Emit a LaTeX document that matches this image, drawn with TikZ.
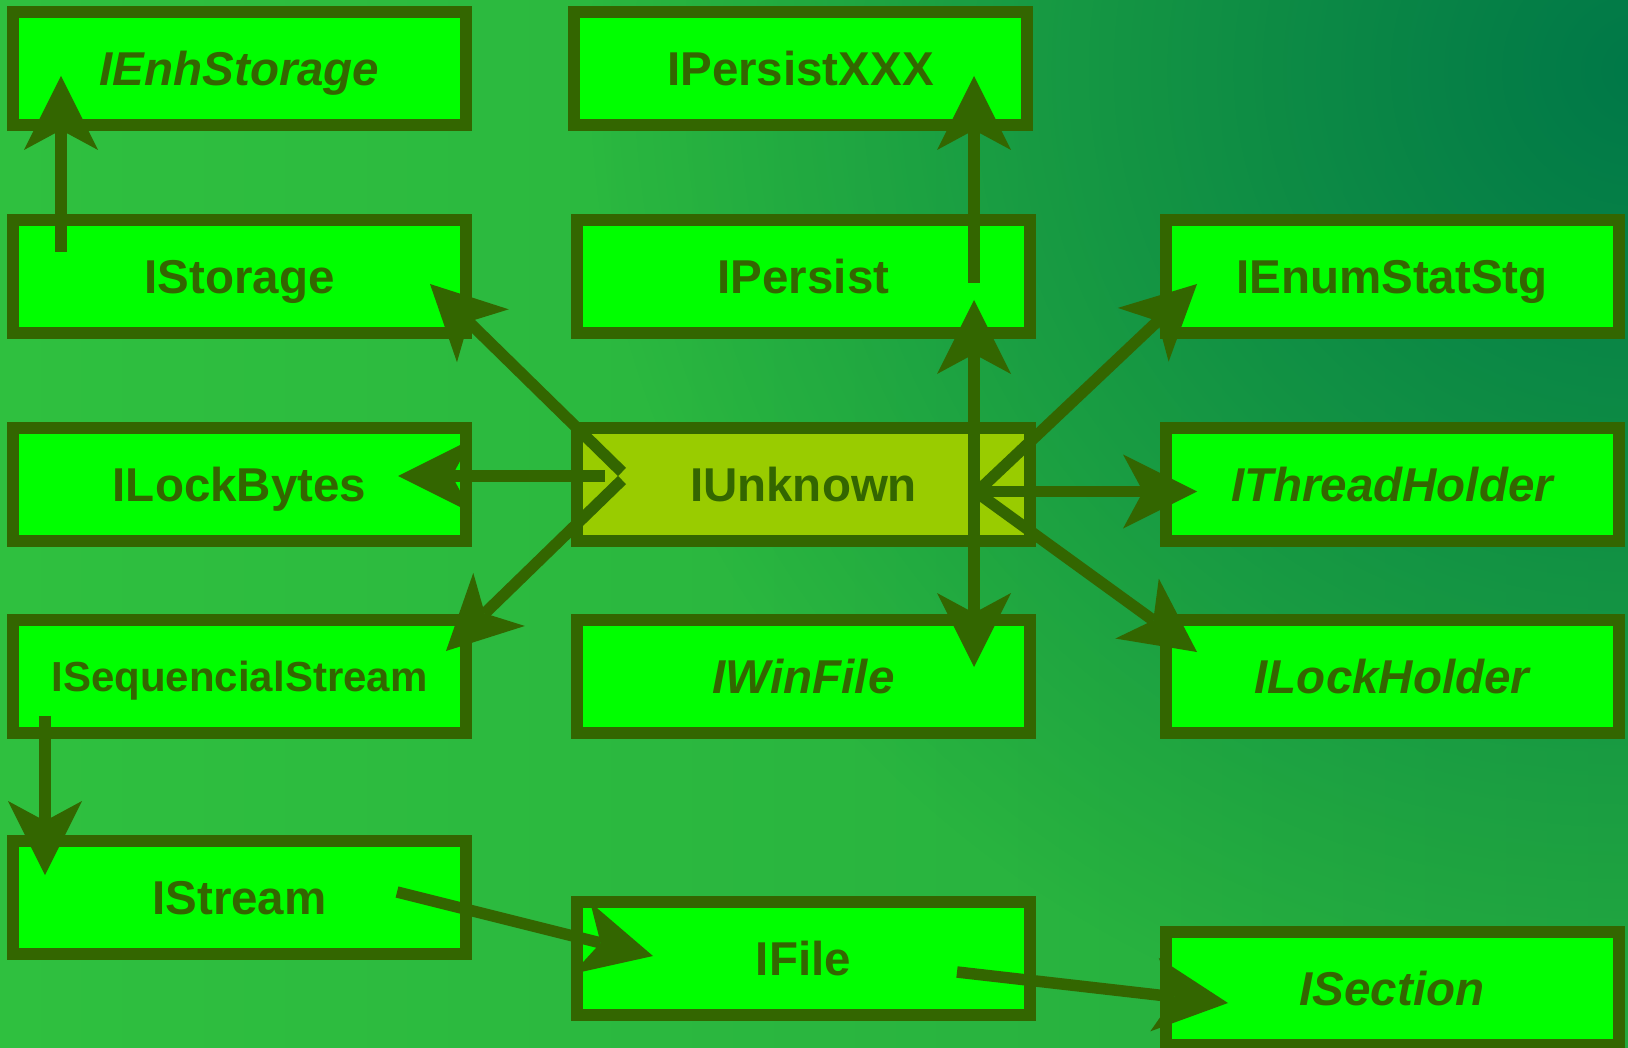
\documentclass[tikz,border=0pt]{standalone}
\usepackage{fontspec}
\setmainfont{Liberation Sans}
\usetikzlibrary{arrows.meta,calc,fadings}
\definecolor{dk}{HTML}{336600}
\definecolor{boxfill}{HTML}{00FF00}
\definecolor{unkfill}{HTML}{99CC00}
\definecolor{bgleft}{HTML}{2FC03F}
\definecolor{bgright}{HTML}{25AC3F}
\definecolor{bgdark}{HTML}{007848}
\tikzfading[name=glowfade, inner color=transparent!0, outer color=transparent!100]
\begin{document}
\begin{tikzpicture}[x=0.5pt,y=-0.5pt,
  box/.style={draw=dk, line width=6pt, fill=boxfill, minimum width=226.5pt, minimum height=56.5pt,
    inner sep=0pt, outer sep=0pt, text=dk, font=\fontsize{23.75}{28}\selectfont\bfseries,
    text height=17pt, text depth=0pt},
  smallbox/.style={box, font=\fontsize{21}{25}\selectfont\bfseries, text height=15pt},
  conn/.style={draw=dk, line width=5.75pt,
    -{Stealth[length=37pt, width=37pt, inset=10pt, line width=0pt]}}]
\useasboundingbox (0,0) rectangle (1628,1048);
\shade[left color=bgleft, right color=bgright] (0,0) rectangle (1628,1048);
\begin{scope}
\clip (0,0) rectangle (1628,1048);
\fill[bgdark, path fading=glowfade] (1640,70) ellipse (1050 and 1000);
\end{scope}

\node[box] (enh) at (239.5,68.5) {\itshape IEnhStorage};
\node[box] (pxxx) at (800.5,68.5) {IPersistXXX};
\node[box] (storage) at (239.5,276.5) {IStorage};
\node[box] (persist) at (803.5,276.5) {IPersist};
\node[box] (enum) at (1392,276.5) {IEnumStatStg};
\node[box] (lockb) at (239.5,484.5) {ILockBytes};
\node[box, fill=unkfill] (unk) at (803.5,484.5) {IUnknown};
\node[box] (thread) at (1392,484.5) {\itshape IThreadHolder};
\node[smallbox] (seq) at (239.5,676.5) {ISequencialStream};
\node[box] (winf) at (803.5,676.5) {\itshape IWinFile};
\node[box] (lockh) at (1392,676.5) {\itshape ILockHolder};
\node[box] (stream) at (239.5,897.5) {IStream};
\node[box] (file) at (803.5,958.5) {IFile};
\node[box] (section) at (1392,988.5) {\itshape ISection};

\draw[conn] ($(storage)+(-178.5,-24.5)$) -- ($(enh)+(-178.5,7.5)$);
\draw[conn] ($(persist)+(170.5,6.5)$) -- ($(pxxx)+(173.5,7.5)$);
\draw[conn] ($(unk)+(170.5,0)$) -- ($(persist)+(170.5,23.5)$);
\draw[conn] ($(unk)+(170.5,0)$) -- ($(winf)+(170.5,-9.5)$);
\draw[conn] ($(unk)+(-198.5,-8.5)$) -- ($(lockb)+(158.5,-8.5)$);
\draw[conn] ($(unk)+(-181.5,-12.5)$) -- ($(storage)+(190.5,7.5)$);
\draw[conn] ($(unk)+(-181.5,-4.5)$) -- ($(seq)+(206.5,-25.5)$);
\draw[conn] ($(unk)+(175.5,5.5)$) -- ($(enum)+(-195,7.5)$);
\draw[conn] ($(unk)+(175.5,7)$) -- ($(thread)+(-195,7)$);
\draw[conn] ($(unk)+(175.5,9.5)$) -- ($(lockh)+(-195,-24.5)$);
\draw[conn] ($(seq)+(-194.5,39.5)$) -- ($(stream)+(-194.5,-22.5)$);
\draw[conn] ($(stream)+(157.5,-5.5)$) -- ($(file)+(-150.5,-2.5)$);
\draw[conn] ($(file)+(153.5,13.5)$) -- ($(section)+(-164,14.5)$);
\end{tikzpicture}
\end{document}
